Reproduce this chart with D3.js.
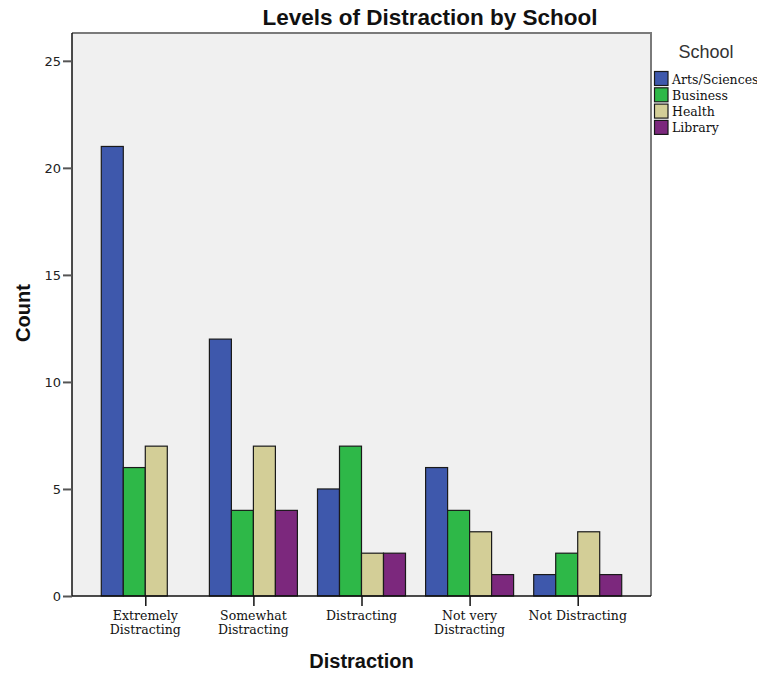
<!DOCTYPE html>
<html>
<head>
<meta charset="utf-8">
<script src="https://cdn.jsdelivr.net/npm/d3@7/dist/d3.min.js"></script>
<style>
  html, body { margin: 0; padding: 0; background: #ffffff; }
  svg { display: block; }
</style>
</head>
<body>
<svg id="chart" width="757" height="673"></svg>
<script>
const categories = [["Extremely", "Distracting"], ["Somewhat", "Distracting"], ["Distracting"], ["Not very", "Distracting"], ["Not Distracting"]];
const categoryKeys = ["Extremely Distracting", "Somewhat Distracting", "Distracting", "Not very Distracting", "Not Distracting"];
const schools = ["Arts/Sciences", "Business", "Health", "Library"];
const artsSciences = [21, 12, 5, 6, 1];
const business = [6, 4, 7, 4, 2];
const health = [7, 7, 2, 3, 3];
const library = [0, 4, 2, 1, 1];
const yTicks = [0, 5, 10, 15, 20, 25];
const colors = ["#3E58AC", "#2EB848", "#D3CE97", "#7C287D"];

(function () {
const seriesValues = [artsSciences, business, health, library];
const data = [];
categoryKeys.forEach((c, i) => {
  schools.forEach((s, j) => {
    data.push({ cat: c, school: s, value: seriesValues[j][i] });
  });
});

const svg = d3.select("#chart");
const pL = 72, pR = 651, pT = 33, pB = 596;

const y = d3.scaleLinear().domain([0, 26.3]).range([pB, pT]);
const x0 = d3.scalePoint().domain(categoryKeys).range([pL, pR]).padding(0.678);
const x1 = d3.scaleBand().domain(schools).range([-44, 44]).padding(0);
const color = d3.scaleOrdinal().domain(schools).range(colors);

// plot background
svg.append("rect")
  .attr("x", pL).attr("y", pT)
  .attr("width", pR - pL).attr("height", pB - pT)
  .attr("fill", "#F0F0F0");

// bars
svg.append("g").selectAll("rect")
  .data(data.filter(d => d.value > 0))
  .join("rect")
  .attr("x", d => x0(d.cat) + x1(d.school))
  .attr("y", d => y(d.value))
  .attr("width", x1.bandwidth())
  .attr("height", d => y(0) - y(d.value))
  .attr("fill", d => color(d.school))
  .attr("stroke", "#1a1a1a")
  .attr("stroke-width", 1.2);

// frame: top and right grey
svg.append("line").attr("x1", pL).attr("x2", pR + 1).attr("y1", pT).attr("y2", pT)
  .attr("stroke", "#7a7a7a").attr("stroke-width", 2);
svg.append("line").attr("x1", pR).attr("x2", pR).attr("y1", pT).attr("y2", pB)
  .attr("stroke", "#7a7a7a").attr("stroke-width", 2);

// y axis
const yAxis = d3.axisLeft(y).tickValues(yTicks).tickSize(9).tickPadding(2).tickFormat(d3.format("d"));
const gy = svg.append("g").attr("transform", `translate(${pL},0)`).call(yAxis);
gy.select(".domain").attr("d", `M0,${pB}V${pT}`).attr("stroke", "#111").attr("stroke-width", 1.5);
gy.selectAll(".tick line").attr("stroke", "#555").attr("stroke-width", 2);
gy.selectAll(".tick text")
  .attr("font-family", "'DejaVu Sans', sans-serif")
  .attr("font-size", 13)
  .attr("fill", "#222");

// x axis
const xAxis = d3.axisBottom(x0).tickSize(10).tickFormat(() => "");
const gx = svg.append("g").attr("transform", `translate(0,${pB})`).call(xAxis);
gx.select(".domain").attr("d", `M${pL},0H${pR}`).attr("stroke", "#111").attr("stroke-width", 1.5);
gx.selectAll(".tick line").attr("stroke", "#111").attr("stroke-width", 1.5);

// x tick labels (multi-line)
const xl = svg.append("g");
categoryKeys.forEach((k, i) => {
  const t = xl.append("text")
    .attr("x", x0(k))
    .attr("y", 620)
    .attr("text-anchor", "middle")
    .attr("font-family", "'DejaVu Serif', serif")
    .attr("font-size", 12.5)
    .attr("fill", "#111");
  categories[i].forEach((line, li) => {
    t.append("tspan").attr("x", x0(k)).attr("dy", li === 0 ? 0 : 14).text(line);
  });
});

// title
svg.append("text")
  .attr("x", 430).attr("y", 25)
  .attr("text-anchor", "middle")
  .attr("font-family", "'Liberation Sans', Arial, sans-serif")
  .attr("font-weight", "bold")
  .attr("font-size", 22.5)
  .attr("fill", "#111")
  .text("Levels of Distraction by School");

// axis titles
svg.append("text")
  .attr("x", (pL + pR) / 2).attr("y", 668)
  .attr("text-anchor", "middle")
  .attr("font-family", "'Liberation Sans', Arial, sans-serif")
  .attr("font-weight", "bold")
  .attr("font-size", 20)
  .attr("fill", "#111")
  .text("Distraction");

svg.append("text")
  .attr("transform", "translate(30,313) rotate(-90)")
  .attr("text-anchor", "middle")
  .attr("font-family", "'Liberation Sans', Arial, sans-serif")
  .attr("font-weight", "bold")
  .attr("font-size", 20)
  .attr("fill", "#111")
  .text("Count");

// legend
const lg = svg.append("g");
lg.append("text")
  .attr("x", 706).attr("y", 58)
  .attr("text-anchor", "middle")
  .attr("font-family", "'Liberation Sans', Arial, sans-serif")
  .attr("font-size", 18)
  .attr("fill", "#333")
  .text("School");
const rowStep = 16.3;
schools.forEach((s, i) => {
  const yy = 71.5 + i * rowStep;
  lg.append("rect")
    .attr("x", 654.5).attr("y", yy)
    .attr("width", 13.5).attr("height", 14)
    .attr("fill", color(s))
    .attr("stroke", "#1a1a1a").attr("stroke-width", 1.2);
  lg.append("text")
    .attr("x", 672).attr("y", yy + 12)
    .attr("font-family", "'DejaVu Serif', serif")
    .attr("font-size", 12.5)
    .attr("fill", "#111")
    .text(s);
});
})();
</script>
</body>
</html>
